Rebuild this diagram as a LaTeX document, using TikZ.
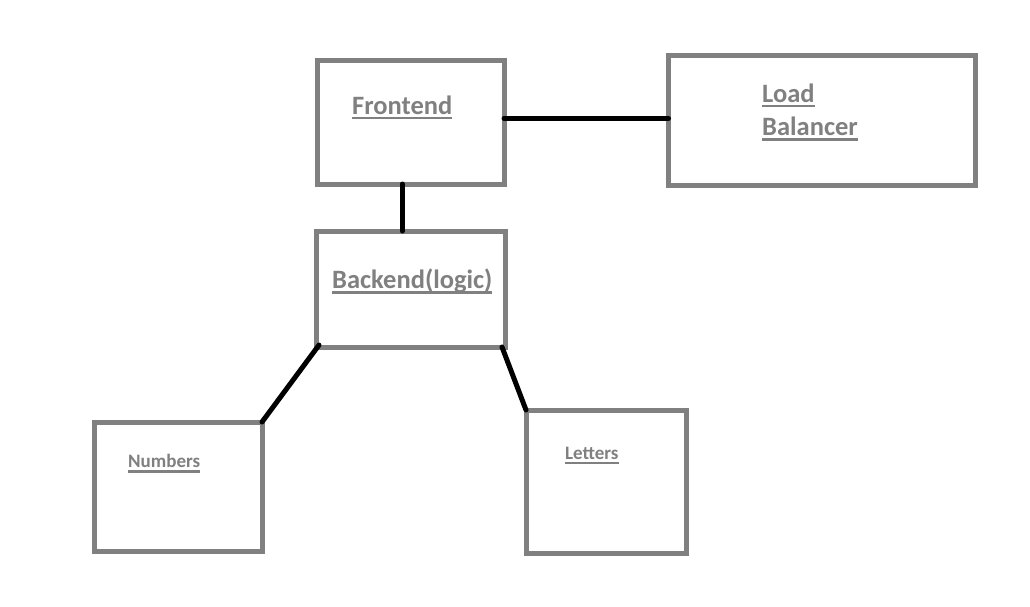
\documentclass[tikz,border=0pt]{standalone}
\usepackage{fontspec}
\setmainfont{Carlito}
\usetikzlibrary{calc}
\definecolor{boxgray}{HTML}{808080}
\newcommand\myul[1]{\setbox0\hbox{#1}\rlap{\rule[-5.3pt]{\wd0}{2.6pt}}\box0}
\tikzset{
  box/.style={draw=boxgray, line width=5pt, inner sep=0pt, outer sep=0pt, fill=white},
  link/.style={draw=black, line width=5pt, line cap=round},
  bigtxt/.style={anchor=base west, inner sep=0pt, text=boxgray, font=\fontsize{26.5}{32}\selectfont\bfseries},
  smalltxt/.style={anchor=base west, inner sep=0pt, text=boxgray, font=\fontsize{19}{23}\selectfont\bfseries}
}
\begin{document}
\begin{tikzpicture}[x=1pt,y=-1pt]
\useasboundingbox[fill=white] (0,0) rectangle (1030,606);
\node[box, minimum width=186.5pt, minimum height=124pt] (fe) at (410.75,122) {};
\node[box, minimum width=307pt, minimum height=130pt] (lb) at (822,120) {};
\node[box, minimum width=189pt, minimum height=116pt] (be) at (410.5,289) {};
\node[box, minimum width=168pt, minimum height=129pt] (num) at (178,486.5) {};
\node[box, minimum width=160pt, minimum height=143pt] (let) at (606,481.5) {};
\node[bigtxt] (fet) at (352,114) {\myul{Frontend}};
\node[bigtxt] (lbt1) at (762,102) {\myul{Load}};
\node[bigtxt] (lbt2) at (762,135.5) {\myul{Balancer}};
\node[bigtxt] (bet) at (332,288.3) {\myul{Backend(logic)}};
\node[smalltxt] (numt) at (128,467.7) {\myul{Numbers}};
\node[smalltxt] (lett) at (565,459) {\myul{Letters}};
\coordinate (fer) at ($(fe.north east)!0.47!(fe.south east)$);
\coordinate (feb) at ($(fe.south west)!0.455!(fe.south east)$);
\draw[link] (fer) -- (fer -| lb.west);
\draw[link] (feb) -- (feb |- be.north);
\draw[link] ($(be.south west)+(3,-2)$) -- (num.north east);
\draw[link] ($(be.south east)+(-3,0)$) -- (let.north west);
\end{tikzpicture}
\end{document}
